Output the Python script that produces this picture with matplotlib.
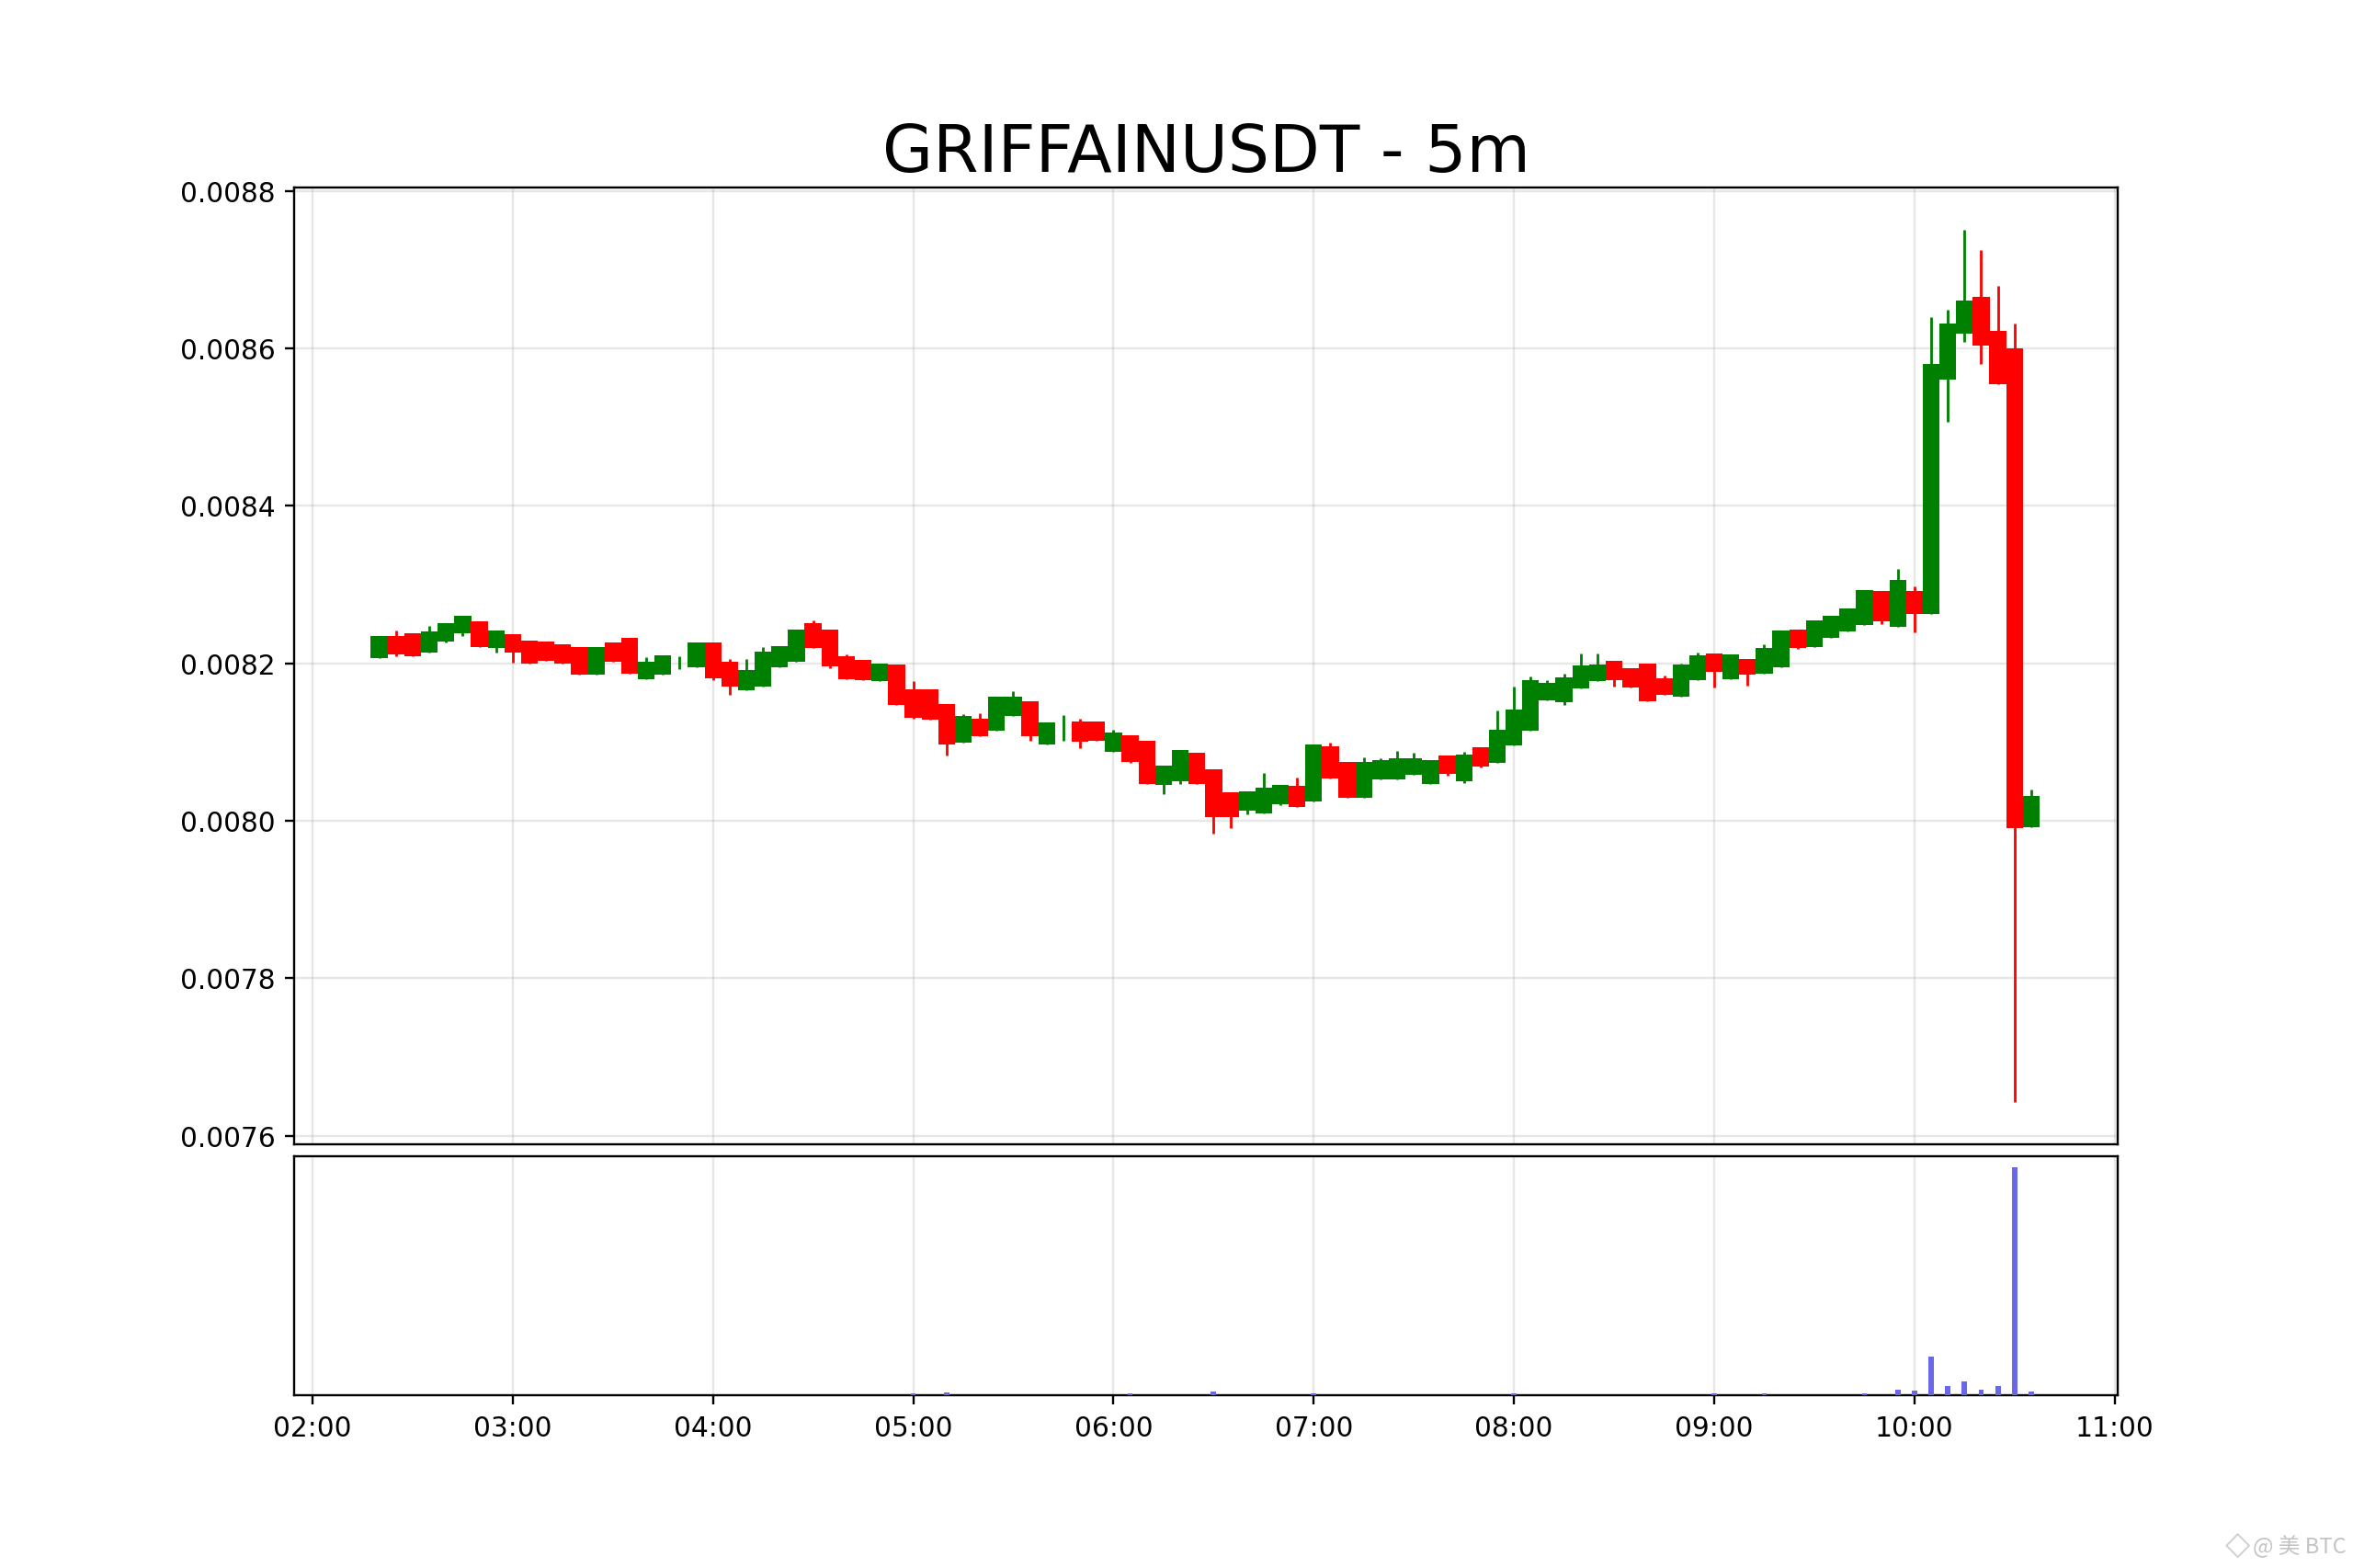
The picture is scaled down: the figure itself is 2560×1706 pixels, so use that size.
import datetime as dt
import matplotlib
matplotlib.use("Agg")
import matplotlib.pyplot as plt
import matplotlib.dates as mdates

TITLE = "GRIFFAINUSDT - 5m"
START = dt.datetime(2025, 1, 1, 2, 20)
STEP_MIN = 5
SCALE = 1e-6  # the arrays are written in millionths of a USDT

opens = [8206,8235,8238,8214,8228,8238,8253,8219,8237,8229,
         8228,8224,8221,8185,8226,8232,8180,8185,8201,8195,
         8226,8202,8166,8170,8195,8202,8251,8243,8209,8204,
         8177,8198,8167,8167,8148,8099,8130,8114,8133,8152,
         8097,8118,8126,8126,8088,8108,8102,8046,8050,8086,
         8065,8036,8013,8009,8021,8044,8025,8095,8075,8029,
         8053,8053,8058,8047,8083,8050,8093,8073,8096,8114,
         8153,8151,8168,8177,8203,8194,8199,8181,8158,8178,
         8212,8180,8205,8187,8195,8243,8220,8232,8240,8249,
         8292,8246,8292,8263,8560,8618,8665,8622,8600,7992]
closes = [8235,8211,8209,8240,8251,8260,8220,8242,8214,8200,
          8203,8200,8185,8220,8202,8187,8202,8210,8201,8226,
          8181,8170,8191,8215,8222,8243,8219,8196,8180,8179,
          8200,8147,8131,8128,8097,8133,8107,8157,8158,8107,
          8125,8118,8100,8102,8112,8075,8047,8070,8090,8047,
          8005,8004,8037,8042,8046,8018,8097,8054,8029,8075,
          8077,8079,8079,8077,8059,8084,8069,8116,8141,8179,
          8175,8182,8197,8198,8179,8169,8152,8160,8198,8210,
          8189,8211,8185,8219,8242,8219,8254,8260,8269,8293,
          8253,8306,8263,8580,8631,8660,8603,8554,7990,8032]
highs = [8235,8242,8238,8247,8251,8260,8253,8242,8237,8229,
         8228,8224,8221,8220,8226,8232,8208,8210,8209,8226,
         8226,8205,8205,8221,8222,8243,8254,8243,8211,8204,
         8200,8198,8177,8167,8148,8135,8136,8157,8165,8152,
         8125,8134,8130,8126,8116,8108,8102,8070,8090,8086,
         8065,8036,8037,8061,8046,8055,8097,8099,8075,8081,
         8079,8089,8086,8077,8083,8087,8093,8140,8170,8183,
         8179,8187,8212,8212,8203,8194,8200,8184,8200,8214,
         8212,8211,8205,8224,8242,8243,8254,8260,8269,8293,
         8292,8320,8297,8640,8649,8751,8725,8679,8631,8040]
lows = [8206,8209,8209,8214,8226,8235,8220,8213,8201,8200,
        8203,8200,8185,8185,8202,8187,8180,8185,8193,8195,
        8179,8160,8166,8170,8195,8202,8219,8194,8180,8179,
        8177,8147,8130,8128,8083,8099,8107,8114,8133,8102,
        8097,8102,8092,8102,8088,8073,8047,8034,8047,8047,
        7984,7991,8008,8009,8020,8018,8025,8054,8029,8029,
        8053,8053,8058,8047,8057,8048,8068,8073,8096,8114,
        8153,8147,8168,8177,8170,8169,8152,8160,8158,8178,
        8169,8180,8172,8187,8195,8218,8220,8232,8240,8249,
        8250,8246,8239,8263,8507,8608,8580,8554,7643,7992]
volumes = [0,0,0,0,0,0,0,0,0,0,
           0,0,0,0,0,0,0,0,0,0,
           0,0,0,0,0,0,0,0,0,0,
           0,0,1.0,0.2,1.4,0,0,0,0,0,
           0,0.2,0,0.2,0,1.0,0.3,0,0,0,
           1.8,0,0,0,0,0,1.0,0.3,0.3,0,
           0,0.2,0,0,0,0,0,0,1.0,0,
           0,0.1,0,0,0,0,0,0,0,0,
           1.0,0,0,0.8,0,0,0,0,0,0.8,
           0,2.4,2.0,17,4,6,2.7,4.3,100,1.6]
y_ticks = [0.0076, 0.0078, 0.0080, 0.0082, 0.0084, 0.0086, 0.0088]

times = [START + dt.timedelta(minutes=STEP_MIN * i) for i in range(len(opens))]
x = mdates.date2num(times)

fig, (ax, vax) = plt.subplots(
    2, 1, figsize=(12, 8), sharex=True,
    gridspec_kw={"height_ratios": [4, 1], "hspace": 0.02})

for xi, o, c, h, l in zip(x, opens, closes, highs, lows):
    color = "green" if c >= o else "red"
    ax.vlines(xi, l * SCALE, h * SCALE, color=color, linewidth=0.95, zorder=2)
    ax.bar(xi, abs(c - o) * SCALE, bottom=min(o, c) * SCALE,
           width=0.0035, color=color, zorder=3)

vax.bar(x, volumes, width=0.0011, color="#6868e8", zorder=3)

ax.set_title(TITLE, fontsize=24)
ax.set_ylim(0.007589, 0.008804)
ax.set_yticks(y_ticks)
ax.set_yticklabels([f"{v:.4f}" for v in y_ticks])
ax.grid(True, alpha=0.3)
ax.tick_params(axis="x", length=0, labelbottom=False)

vax.grid(True, alpha=0.3)
vax.set_yticks([])
vax.set_ylim(0, 105)
vax.xaxis.set_major_locator(mdates.HourLocator())
vax.xaxis.set_major_formatter(mdates.DateFormatter("%H:%M"))
day0 = dt.datetime(2025, 1, 1, 2, 0)
vax.set_xlim(mdates.date2num(day0 + dt.timedelta(minutes=-5.5)),
             mdates.date2num(day0 + dt.timedelta(minutes=540.9)))

fig.text(0.9973, 0.00996, "@ 美 BTC", ha="right", va="baseline", fontsize=8,
         color="#c4c4c4", family=["Noto Sans CJK SC", "DejaVu Sans"])
fig.text(0.9508, 0.0152, "\u25c7", ha="center", va="center", fontsize=12,
         color="#cfcfcf", family="DejaVu Sans")

fig.savefig("out.png", dpi=2560 / 12)
